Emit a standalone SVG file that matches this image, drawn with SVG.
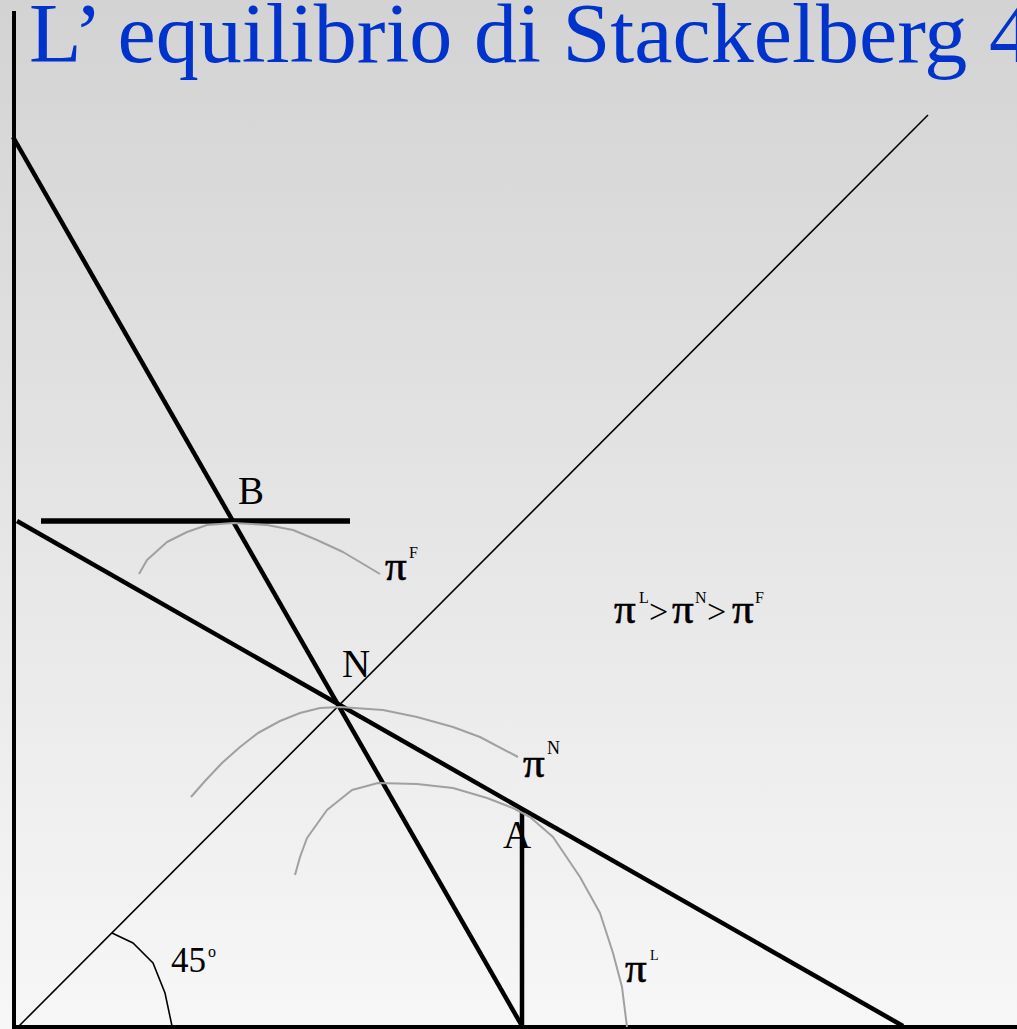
<svg xmlns="http://www.w3.org/2000/svg" width="1017" height="1029" viewBox="0 0 1017 1029">
<defs>
<linearGradient id="bg" x1="0" y1="0" x2="0" y2="1">
<stop offset="0" stop-color="#d3d3d3"/>
<stop offset="1" stop-color="#f7f7f7"/>
</linearGradient>
<style>
.axis{stroke:#000;stroke-width:4;fill:none}
.thick{stroke:#000;stroke-width:4.5;fill:none;stroke-linecap:butt}
.thin{stroke:#000;stroke-width:1.6;fill:none}
.iso{stroke:#a0a0a0;stroke-width:2;fill:none;stroke-linejoin:round}
.lbl{font-family:"Liberation Serif","Times New Roman",serif;fill:#000}
.pi{font-family:"Liberation Serif","Times New Roman",serif;fill:#000;font-size:43px;stroke:#000;stroke-width:0.6}
.sup{font-family:"Liberation Serif","Times New Roman",serif;fill:#000;font-size:16px}
.title{font-family:"Liberation Serif","Times New Roman",serif;fill:#0033cc;font-size:84px}
</style>
</defs>
<rect width="1017" height="1029" fill="url(#bg)"/>
<text class="title" x="29" y="62" textLength="1003" lengthAdjust="spacingAndGlyphs">L’ equilibrio di Stackelberg 4</text>

<g id="connectors">
<line id="y-axis" class="axis" x1="14" y1="11" x2="14" y2="1029"/>
<line id="x-axis" class="axis" x1="12" y1="1027" x2="1017" y2="1027"/>
<line id="line-45" class="thin" x1="19" y1="1026" x2="928" y2="115"/>
<line id="reaction-steep" class="thick" x1="13" y1="137" x2="522" y2="1026"/>
<line id="reaction-shallow" class="thick" x1="17" y1="521" x2="903" y2="1026"/>
<line id="b-line" class="thick" x1="41" y1="521" x2="350" y2="521" style="stroke-width:5.5"/>
<line id="a-line" class="thick" x1="522" y1="808" x2="522" y2="1026"/>
<polyline id="arc-45" class="thin" points="112,933 133,943 153,963 165,993 172,1026"/>
</g>

<g id="iso-F">
<polyline class="iso" points="139,574 147,560 167,542 187,532 207,525 233,523 267,525 293,530 317,540 343,552 380,574"/>
<text class="pi" x="385" y="580">π</text>
<text class="sup" x="409" y="558">F</text>
</g>

<g id="iso-N">
<polyline class="iso" points="191,797 205,781 222,763 240,747 258,733 280,721 300,713 320,708 340,707 383,710 417,717 453,727 480,737 518,757"/>
<text class="pi" x="523" y="777">π</text>
<text class="sup" x="547" y="754" style="font-size:18px">N</text>
</g>

<g id="iso-L">
<polyline class="iso" points="295,875 300,857 307,838 327,810 352,790 378,783 417,784 453,788 487,798 513,808 530,817 553,837 580,877 600,913 613,953 622,987 627,1027"/>
<text class="pi" x="625" y="982">π</text>
<text class="sup" x="650" y="960" style="font-size:14px">L</text>
</g>

<g id="point-B"><text class="lbl" x="238" y="504" font-size="39">B</text></g>
<g id="point-N"><text class="lbl" x="342" y="677" font-size="39">N</text></g>
<g id="point-A"><text class="lbl" x="503" y="848" font-size="39">A</text></g>

<g id="angle-label">
<text class="lbl" x="171" y="972" font-size="35">45</text>
<text class="lbl" x="208" y="957" font-size="16">o</text>
</g>

<g id="inequality">
<text class="pi" x="614" y="623">π</text>
<text class="sup" x="639" y="603">L</text>
<text class="lbl" x="649" y="623" font-size="34">&gt;</text>
<text class="pi" x="672" y="623">π</text>
<text class="sup" x="695" y="603">N</text>
<text class="lbl" x="707" y="623" font-size="34">&gt;</text>
<text class="pi" x="732" y="623">π</text>
<text class="sup" x="755" y="603">F</text>
</g>
</svg>
